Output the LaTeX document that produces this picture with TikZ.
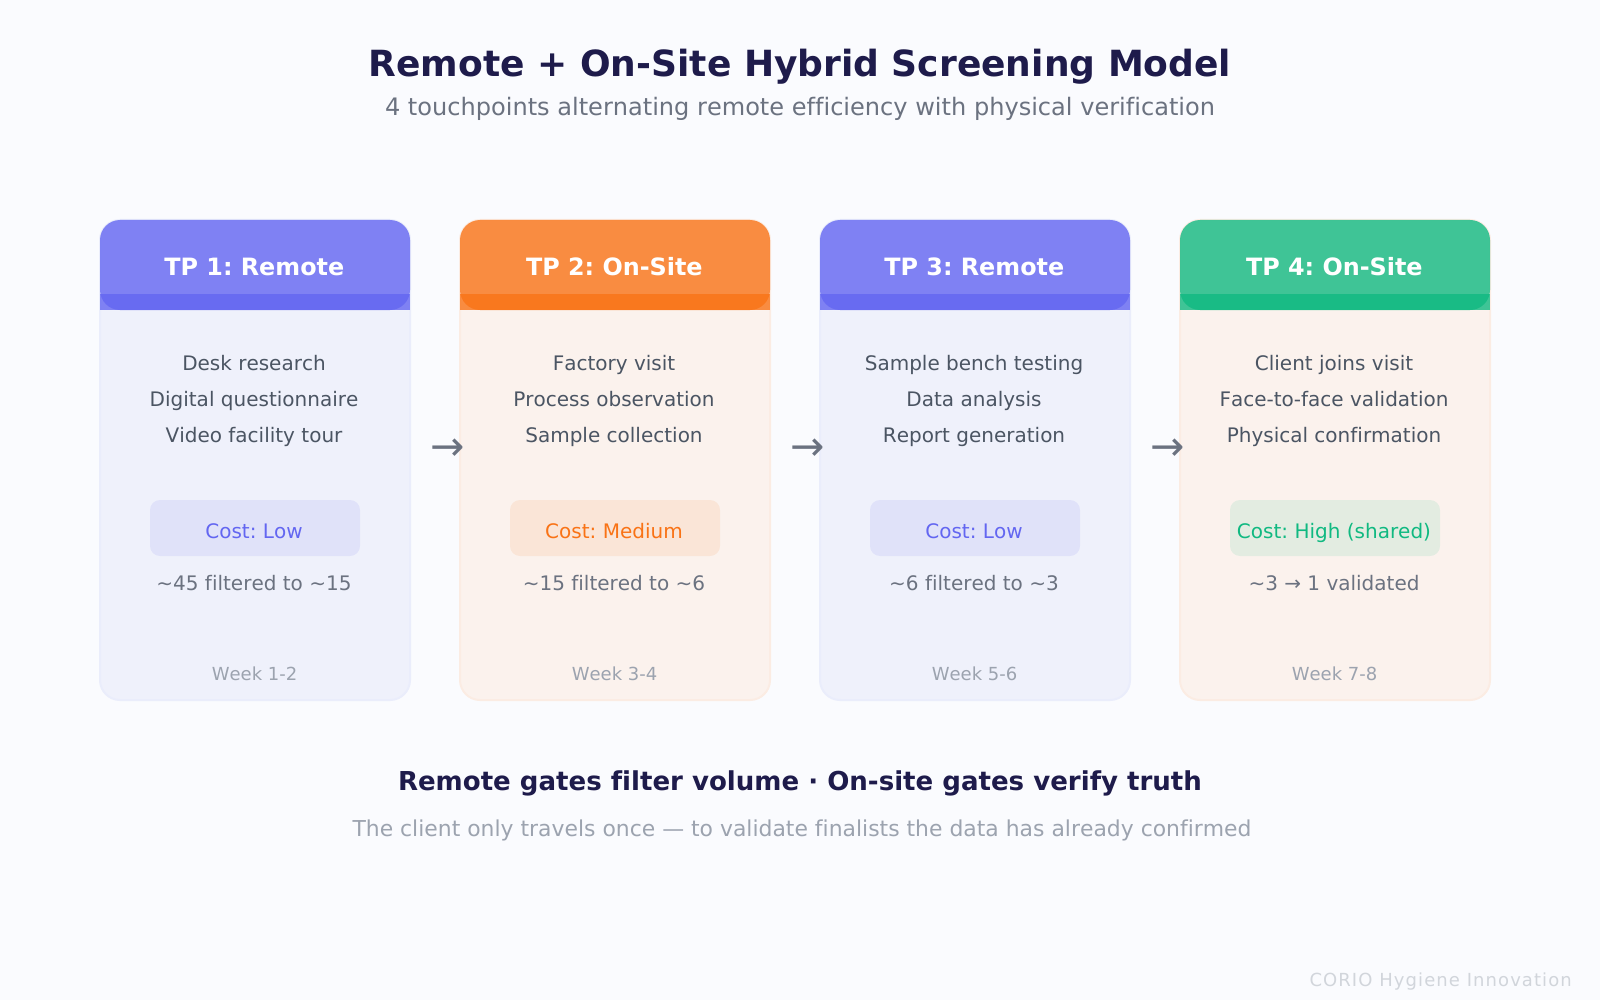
\documentclass[tikz,border=0pt]{standalone}
\usepackage{fontspec}
\setmainfont[Ligatures=NoCommon,Kerning=Off]{DejaVu Sans}
\definecolor{bgc}{HTML}{FAFBFE}
\definecolor{ind}{HTML}{6366F1}
\definecolor{ora}{HTML}{F97316}
\definecolor{gre}{HTML}{10B981}
\definecolor{navy}{HTML}{1E1B4B}
\definecolor{gA}{HTML}{6B7280}
\definecolor{gB}{HTML}{4B5563}
\definecolor{gC}{HTML}{9CA3AF}
\definecolor{gD}{HTML}{D1D5DB}
\definecolor{cardI}{HTML}{EFF1FB}
\definecolor{edgeI}{HTML}{EAEDFB}
\definecolor{cardO}{HTML}{FBF2ED}
\definecolor{edgeO}{HTML}{FBECE3}
\newcommand{\fs}[1]{\fontsize{#1}{#1}\selectfont}
\tikzset{
  x=1pt,y=-1pt,
  txt/.style={anchor=base,inner sep=0pt,outer sep=0pt},
  cardbox/.style 2 args={rectangle,rounded corners=20pt,minimum width=310pt,minimum height=480pt,inner sep=0pt,outer sep=0pt,fill=#1,draw=#2,line width=2pt},
  headbox/.style={rectangle,rounded corners=20pt,minimum width=310pt,minimum height=90pt,inner sep=0pt,outer sep=0pt,fill=#1,fill opacity=0.8},
  headband/.style={rectangle,minimum width=310pt,minimum height=16pt,inner sep=0pt,outer sep=0pt,fill=#1,fill opacity=0.8},
  costbox/.style={rectangle,rounded corners=10pt,minimum width=210pt,minimum height=56pt,inner sep=0pt,outer sep=0pt,fill=#1,fill opacity=0.1},
  headtxt/.style={txt,text=white,font=\fs{23.85}\bfseries},
  bodytxt/.style={txt,text=gB,font=\fs{20}},
  costtxt/.style={txt,font=\fs{20}},
  filttxt/.style={txt,text=gA,font=\fs{20}},
  weektxt/.style={txt,text=gC,font=\fs{18}},
  arrowtxt/.style={txt,text=gA,font=\fs{41}},
}
\newcommand{\tpcard}[9]{%
  \node[cardbox={card#3}{edge#3}] (card#1) at (#2,460) {};
  \node[headbox=#4] (head#1) at (#2,265) {};
  \node[headband=#4] (band#1) at (#2,302) {};
  \node[headtxt] (title#1) at ([xshift=-0.7pt]#2,276) {#5};
  \node[bodytxt] (la#1) at ([xshift=-1pt]#2,370) {#6};
  \node[bodytxt] (lb#1) at ([xshift=-1pt]#2,406) {#7};
  \node[bodytxt] (lc#1) at ([xshift=-1pt]#2,442) {#8};
  \node[filttxt] (filt#1) at ([xshift=-1pt]#2,590) {#9};
}
\begin{document}
\frenchspacing
\begin{tikzpicture}
\useasboundingbox (0,0) rectangle (1600,1000);
\fill[bgc] (0,0) rectangle (1600,1000);
\node[txt,text=navy,font=\fs{36.05}\bfseries] (title) at (800,76.5) {Remote + On-Site Hybrid Screening Model};
\node[txt,text=gA,font=\fs{24.05}] (subtitle) at (800,116) {4 touchpoints alternating remote efficiency with physical verification};

\tpcard{1}{255}{I}{ind}{TP 1: Remote}{Desk research}{Digital questionnaire}{Video facility tour}{\textasciitilde 45 filtered to \textasciitilde 15}
\tpcard{2}{615}{O}{ora}{TP 2: On-Site}{Factory visit}{Process observation}{Sample collection}{\textasciitilde 15 filtered to \textasciitilde 6}
\tpcard{3}{975}{I}{ind}{TP 3: Remote}{Sample bench testing}{Data analysis}{Report generation}{\textasciitilde 6 filtered to \textasciitilde 3}
\tpcard{4}{1335}{O}{gre}{TP 4: On-Site}{Client joins visit}{Face-to-face validation}{Physical confirmation}{\textasciitilde 3 → 1 validated}

\node[costbox=ind] (cost1) at (255,528) {};
\node[costbox=ora] (cost2) at (615,528) {};
\node[costbox=ind] (cost3) at (975,528) {};
\node[costbox=gre] (cost4) at (1335,528) {};
\node[costtxt,text=ind] (costt1) at (254,538) {Cost: Low};
\node[costtxt,text=ora] (costt2) at (614,538) {Cost: Medium};
\node[costtxt,text=ind] (costt3) at (974,538) {Cost: Low};
\node[costtxt,text=gre] (costt4) at (1334,538) {Cost: High (shared)};

\node[weektxt] (week1) at (254.6,680) {Week 1-2};
\node[weektxt] (week2) at (614.6,680) {Week 3-4};
\node[weektxt] (week3) at (974.6,680) {Week 5-6};
\node[weektxt] (week4) at (1334.6,680) {Week 7-8};

\node[arrowtxt] (arr1) at (448,460.5) {→};
\node[arrowtxt] (arr2) at (808,460.5) {→};
\node[arrowtxt] (arr3) at (1168,460.5) {→};

\node[txt,text=navy,font=\fs{26.05}\bfseries] (note) at (800,790) {Remote gates filter volume · On-site gates verify truth};
\node[txt,text=gC,font=\fs{21.9}] (notesub) at (802,836) {The client only travels once — to validate finalists the data has already confirmed};
\node[anchor=base east,inner sep=0pt,text=gD,font=\fs{18}\addfontfeature{LetterSpace=6}] (foot) at (1572,986) {CORIO Hygiene Innovation};
\end{tikzpicture}
\end{document}
